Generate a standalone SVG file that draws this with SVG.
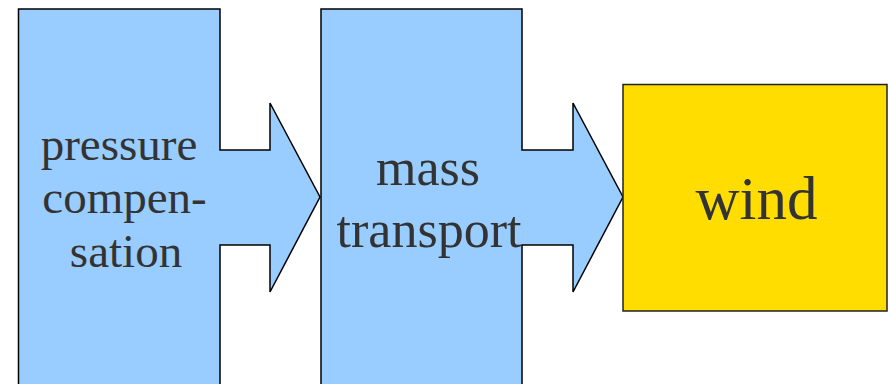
<svg xmlns="http://www.w3.org/2000/svg" width="888" height="384" viewBox="0 0 888 384">
<style>
.blk{fill:#99ccff;stroke:#000;stroke-width:1.5;stroke-linejoin:miter}
.t{font-family:"Liberation Serif","Times New Roman",serif;fill:#333;text-anchor:middle}
</style>
<rect width="888" height="384" fill="#fff"/>
<g id="pressure">
<polygon class="blk" points="18.5,9 220,9 220,150 270,150 270,103 320,197 270,292 270,245 220,245 220,392 18.5,392"/>
<text class="t" font-size="47"><tspan x="119" y="160">pressure</tspan><tspan x="124.5" y="213">compen-</tspan><tspan x="126" y="267">sation</tspan></text>
</g>
<g id="mass">
<polygon class="blk" points="321,9 522,9 522,150 573,150 573,103 623,197 573,292 573,245 522,245 522,392 321,392"/>
<text class="t" font-size="52"><tspan x="428" y="185">mass</tspan><tspan x="429" y="247">transport</tspan></text>
</g>
<g id="wind">
<rect x="623" y="84.5" width="264" height="226.5" fill="#ffdd00" stroke="#222" stroke-width="1.5"/>
<text class="t" font-size="61" x="756.5" y="219">wind</text>
</g>
<g id="connectors"/>
</svg>
